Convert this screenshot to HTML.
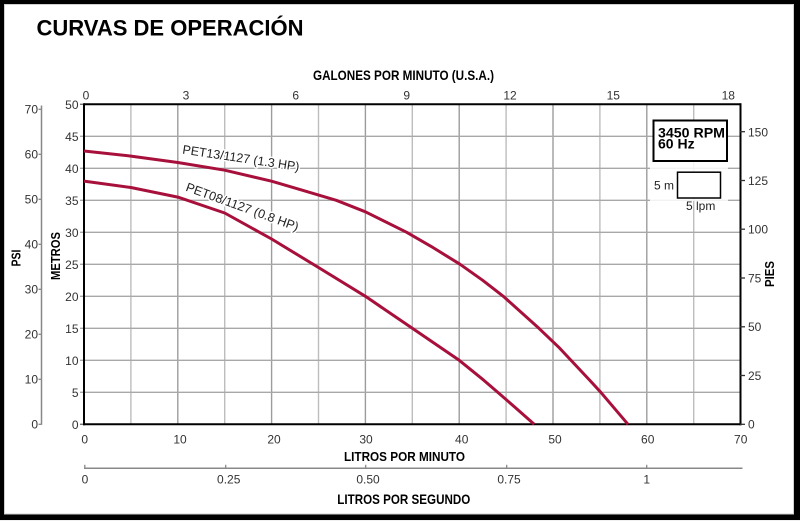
<!DOCTYPE html>
<html>
<head>
<meta charset="utf-8">
<style>
  html,body{margin:0;padding:0;background:#f0f0f0;}
  svg{display:block;}
  text{font-family:"Liberation Sans", Arial, sans-serif;}
</style>
</head>
<body>
<svg width="800" height="521" viewBox="0 0 800 521" xmlns="http://www.w3.org/2000/svg">
  <!-- frame -->
  <rect x="0" y="0" width="800" height="521" fill="#f0f0f0"/>
  <rect x="0" y="0" width="800" height="520" fill="#000"/>
  <rect x="4" y="4" width="790" height="510.5" fill="#fff"/>
  <rect x="4.5" y="4.5" width="789" height="509.5" fill="none" stroke="#d0d0d0" stroke-width="1"/>

  <!-- title -->
  <text x="36.5" y="35.7" font-size="22" font-weight="bold" fill="#000" textLength="267" lengthAdjust="spacingAndGlyphs">CURVAS DE OPERACIÓN</text>

  <!-- top axis title -->
  <text x="313" y="80" font-size="14" font-weight="bold" fill="#000" textLength="181" lengthAdjust="spacingAndGlyphs">GALONES POR MINUTO (U.S.A.)</text>

  <!-- gridlines vertical -->
  <g stroke-width="1.4">
    <line x1="130.9" y1="104" x2="130.9" y2="424" stroke="#bdbdbd"/>
    <line x1="177.8" y1="104" x2="177.8" y2="424" stroke="#9c9c9c"/>
    <line x1="224.7" y1="104" x2="224.7" y2="424" stroke="#bdbdbd"/>
    <line x1="271.6" y1="104" x2="271.6" y2="424" stroke="#9c9c9c"/>
    <line x1="318.5" y1="104" x2="318.5" y2="424" stroke="#bdbdbd"/>
    <line x1="365.4" y1="104" x2="365.4" y2="424" stroke="#9c9c9c"/>
    <line x1="412.3" y1="104" x2="412.3" y2="424" stroke="#bdbdbd"/>
    <line x1="459.2" y1="104" x2="459.2" y2="424" stroke="#9c9c9c"/>
    <line x1="506.1" y1="104" x2="506.1" y2="424" stroke="#bdbdbd"/>
    <line x1="553.0" y1="104" x2="553.0" y2="424" stroke="#9c9c9c"/>
    <line x1="599.9" y1="104" x2="599.9" y2="424" stroke="#bdbdbd"/>
    <line x1="646.8" y1="104" x2="646.8" y2="424" stroke="#9c9c9c"/>
    <line x1="693.7" y1="104" x2="693.7" y2="424" stroke="#bdbdbd"/>
  </g>
  <!-- gridlines horizontal -->
  <g stroke="#a8a8a8" stroke-width="1.4">
    <line x1="80" y1="392.3" x2="740" y2="392.3"/>
    <line x1="80" y1="360.3" x2="740" y2="360.3"/>
    <line x1="80" y1="328.3" x2="740" y2="328.3"/>
    <line x1="80" y1="296.3" x2="740" y2="296.3"/>
    <line x1="80" y1="264.3" x2="740" y2="264.3"/>
    <line x1="80" y1="232.3" x2="740" y2="232.3"/>
    <line x1="80" y1="200.3" x2="740" y2="200.3"/>
    <line x1="80" y1="168.3" x2="740" y2="168.3"/>
    <line x1="80" y1="136.3" x2="740" y2="136.3"/>
  </g>
  <line x1="80" y1="104.3" x2="84" y2="104.3" stroke="#777" stroke-width="1.4"/>
  <line x1="80" y1="424.3" x2="84" y2="424.3" stroke="#777" stroke-width="1.4"/>

  <!-- legend area -->
  <rect x="650" y="161" width="78" height="40" fill="#fff" opacity="0.85"/>
  <rect x="653.5" y="120.5" width="73.5" height="40.5" fill="#fff" stroke="#000" stroke-width="2"/>
  <text x="658" y="137.3" font-size="14" font-weight="bold" fill="#000" textLength="67" lengthAdjust="spacingAndGlyphs">3450 RPM</text>
  <text x="658" y="148.6" font-size="14" font-weight="bold" fill="#000">60 Hz</text>
  <rect x="677.5" y="172.2" width="43" height="25.8" fill="#fff" stroke="#000" stroke-width="1.5"/>
  <text x="654" y="189.5" font-size="12" fill="#222">5 m</text>
  <text x="686" y="210" font-size="12" fill="#222">5 lpm</text>

  <!-- main axes -->
  <line x1="84" y1="104.3" x2="740.5" y2="104.3" stroke="#000" stroke-width="2"/>
  <line x1="84" y1="103.3" x2="84" y2="425.3" stroke="#000" stroke-width="2"/>
  <line x1="83" y1="424.3" x2="741.5" y2="424.3" stroke="#000" stroke-width="2"/>
  <line x1="740.5" y1="103.3" x2="740.5" y2="425.3" stroke="#000" stroke-width="2"/>

  <!-- right ticks -->
  <g stroke="#333" stroke-width="1.3">
    <line x1="740" y1="424.3" x2="745" y2="424.3"/>
    <line x1="740" y1="375.5" x2="745" y2="375.5"/>
    <line x1="740" y1="326.8" x2="745" y2="326.8"/>
    <line x1="740" y1="278.0" x2="745" y2="278.0"/>
    <line x1="740" y1="229.2" x2="745" y2="229.2"/>
    <line x1="740" y1="180.5" x2="745" y2="180.5"/>
    <line x1="740" y1="131.7" x2="745" y2="131.7"/>
  </g>
  <g font-size="12" fill="#333">
    <text x="748" y="428.6">0</text>
    <text x="748" y="379.8">25</text>
    <text x="748" y="331.1">50</text>
    <text x="748" y="282.3">75</text>
    <text x="748" y="233.5">100</text>
    <text x="748" y="184.8">125</text>
    <text x="748" y="136.5">150</text>
  </g>
  <text transform="translate(774,274) rotate(-90)" text-anchor="middle" font-size="13" font-weight="bold" fill="#000" textLength="26" lengthAdjust="spacingAndGlyphs">PIES</text>

  <!-- left meter labels -->
  <g font-size="12" fill="#333" text-anchor="end">
    <text x="78.5" y="428.8">0</text>
    <text x="78.5" y="396.8">5</text>
    <text x="78.5" y="364.8">10</text>
    <text x="78.5" y="332.8">15</text>
    <text x="78.5" y="300.8">20</text>
    <text x="78.5" y="268.8">25</text>
    <text x="78.5" y="236.8">30</text>
    <text x="78.5" y="204.8">35</text>
    <text x="78.5" y="172.8">40</text>
    <text x="78.5" y="140.8">45</text>
    <text x="78.5" y="108.8">50</text>
  </g>
  <text transform="translate(60,256) rotate(-90)" text-anchor="middle" font-size="13" font-weight="bold" fill="#000" textLength="48" lengthAdjust="spacingAndGlyphs">METROS</text>

  <!-- PSI axis -->
  <line x1="41.5" y1="105.5" x2="41.5" y2="424.8" stroke="#888" stroke-width="1.5"/>
  <g stroke="#888" stroke-width="1.3">
    <line x1="38.5" y1="424.3" x2="41.5" y2="424.3"/>
    <line x1="38.5" y1="379.3" x2="41.5" y2="379.3"/>
    <line x1="38.5" y1="334.3" x2="41.5" y2="334.3"/>
    <line x1="38.5" y1="289.3" x2="41.5" y2="289.3"/>
    <line x1="38.5" y1="244.3" x2="41.5" y2="244.3"/>
    <line x1="38.5" y1="199.3" x2="41.5" y2="199.3"/>
    <line x1="38.5" y1="154.3" x2="41.5" y2="154.3"/>
    <line x1="38.5" y1="109.3" x2="41.5" y2="109.3"/>
  </g>
  <g font-size="12" fill="#333" text-anchor="end">
    <text x="38" y="428.6">0</text>
    <text x="38" y="383.6">10</text>
    <text x="38" y="338.6">20</text>
    <text x="38" y="293.6">30</text>
    <text x="38" y="248.6">40</text>
    <text x="38" y="203.6">50</text>
    <text x="38" y="158.6">60</text>
    <text x="38" y="113.6">70</text>
  </g>
  <text transform="translate(20.5,258) rotate(-90)" text-anchor="middle" font-size="13" font-weight="bold" fill="#000" textLength="17" lengthAdjust="spacingAndGlyphs">PSI</text>

  <!-- top gallon labels -->
  <g font-size="12" fill="#333" text-anchor="middle">
    <text x="86" y="99.3">0</text>
    <text x="186" y="99.3">3</text>
    <text x="295.7" y="99.3">6</text>
    <text x="406.7" y="99.3">9</text>
    <text x="510" y="99.3">12</text>
    <text x="613.3" y="99.3">15</text>
    <text x="728.3" y="99.3">18</text>
  </g>

  <!-- bottom lpm labels -->
  <g font-size="12" fill="#333" text-anchor="middle">
    <text x="84.7" y="443.5">0</text>
    <text x="180" y="443.5">10</text>
    <text x="274" y="443.5">20</text>
    <text x="366" y="443.5">30</text>
    <text x="461.7" y="443.5">40</text>
    <text x="555" y="443.5">50</text>
    <text x="647.7" y="443.5">60</text>
    <text x="740.7" y="443.5">70</text>
  </g>
  <text x="344" y="461" font-size="13" font-weight="bold" fill="#000" textLength="121" lengthAdjust="spacingAndGlyphs">LITROS POR MINUTO</text>

  <!-- litros por segundo axis -->
  <line x1="84" y1="468.3" x2="742.5" y2="468.3" stroke="#888" stroke-width="1.5"/>
  <g stroke="#888" stroke-width="1.3">
    <line x1="84.8" y1="464.8" x2="84.8" y2="468.3"/>
    <line x1="225.7" y1="464.8" x2="225.7" y2="468.3"/>
    <line x1="365.7" y1="464.8" x2="365.7" y2="468.3"/>
    <line x1="506.7" y1="464.8" x2="506.7" y2="468.3"/>
    <line x1="646.7" y1="464.8" x2="646.7" y2="468.3"/>
  </g>
  <g font-size="12" fill="#333" text-anchor="middle">
    <text x="85" y="483.5">0</text>
    <text x="228.7" y="483.5">0.25</text>
    <text x="368" y="483.5">0.50</text>
    <text x="509" y="483.5">0.75</text>
    <text x="646.7" y="483.5">1</text>
  </g>
  <text x="337.3" y="504" font-size="14" font-weight="bold" fill="#000" textLength="133" lengthAdjust="spacingAndGlyphs">LITROS POR SEGUNDO</text>

  <!-- curve labels (white halo breaks gridlines) -->
  <text transform="translate(182,153.5) rotate(8.5)" font-size="12.5" fill="#222" stroke="#fff" stroke-width="3" paint-order="stroke" stroke-linejoin="round" textLength="118" lengthAdjust="spacingAndGlyphs">PET13/1127 (1.3 HP)</text>
  <text transform="translate(185,190.5) rotate(20)" font-size="12.5" fill="#222" stroke="#fff" stroke-width="3" paint-order="stroke" stroke-linejoin="round" textLength="119" lengthAdjust="spacingAndGlyphs">PET08/1127 (0.8 HP)</text>

  <!-- curves -->
  <polyline fill="none" stroke="#a8103c" stroke-width="3" stroke-linejoin="round" stroke-linecap="butt"
    points="84,151.0 130.9,156.1 177.8,162.5 224.7,170.2 271.6,181.2 299.7,189.4 336.3,200.3 365.4,211.8 406.7,232.3 431.1,246.4 460.1,264.3 482.7,280.3 503.3,296.3 538.9,328.3 559.6,348.1 589.6,380.1 600.8,392.3 628.0,424.3"/>
  <polyline fill="none" stroke="#a8103c" stroke-width="3" stroke-linejoin="round" stroke-linecap="butt"
    points="84,181.1 130.9,187.5 177.8,197.1 224.7,213.0 271.6,239.0 318.5,267.5 365.4,296.3 412.3,328.3 459.2,360.3 483.6,380.1 497.7,392.3 515.5,407.7 534.2,424.3"/>
</svg>
</body>
</html>
